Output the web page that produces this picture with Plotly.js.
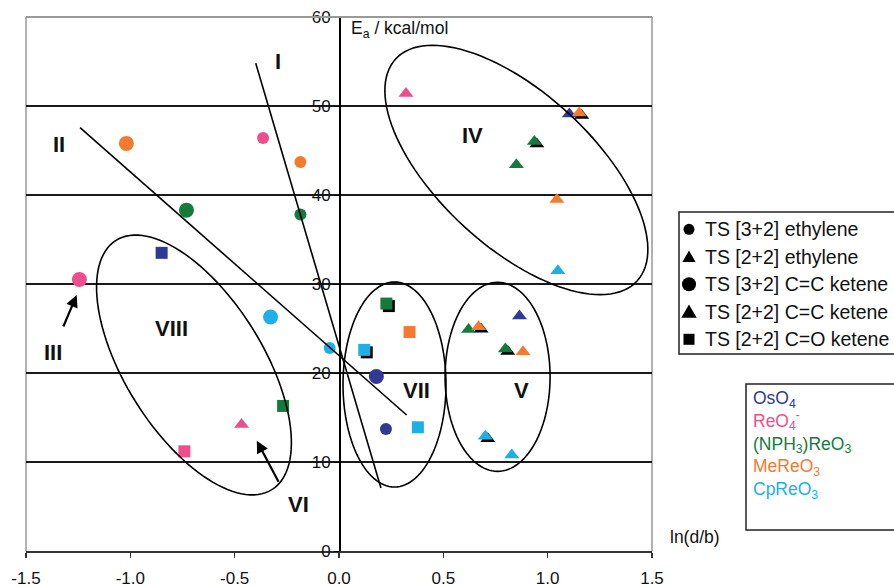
<!DOCTYPE html>
<html><head><meta charset="utf-8">
<script src="https://cdn.plot.ly/plotly-3.0.1.min.js"></script>
<style>html,body{margin:0;padding:0;background:#fff}#chart{width:894px;height:587px}</style>
</head><body><div id="chart"></div>
<script>
// ---------- DATA ----------
const compounds = ['OsO<sub>4</sub>', 'ReO<sub>4</sub><sup>-</sup>', '(NPH<sub>3</sub>)ReO<sub>3</sub>', 'MeReO<sub>3</sub>', 'CpReO<sub>3</sub>'];
const compoundColors = ['#2e3a93', '#ec4f8b', '#177a3d', '#f47a30', '#1cb0e6'];
const seriesNames = ['TS [3+2] ethylene', 'TS [2+2] ethylene', 'TS [3+2] C=C ketene', 'TS [2+2] C=C ketene', 'TS [2+2] C=O ketene'];

// TS [3+2] ethylene
const eth32X = [-0.364, -0.185, -0.185, -0.045, 0.225];
const eth32Y = [46.4, 43.7, 37.8, 22.8, 13.7];
const eth32C = [1, 3, 2, 4, 0];
// TS [2+2] ethylene
const eth22X = [0.321, 1.104, 0.850, 1.044, 1.049];
const eth22Y = [51.4, 49.1, 43.4, 39.5, 31.5];
const eth22C = [1, 0, 2, 3, 4];
// TS [3+2] C=C ketene
const ket32X = [-1.019, -0.731, -1.244, -0.328, 0.179];
const ket32Y = [45.8, 38.3, 30.5, 26.3, 19.6];
const ket32C = [3, 2, 1, 4, 0];
// TS [2+2] C=C ketene
const ket22X = [1.151, 0.936, 0.621, 0.669, 0.865, 0.797, 0.882, 0.701, 0.828, -0.467];
const ket22Y = [49.2, 46.0, 24.9, 25.2, 26.4, 22.7, 22.4, 12.9, 10.8, 14.2];
const ket22C = [3, 2, 2, 3, 0, 2, 3, 4, 4, 1];
const ket22Shadow = [1, 1, 0, 1, 0, 1, 0, 1, 0, 0];
// TS [2+2] C=O ketene
const co22X = [-0.850, -0.268, -0.741, 0.227, 0.338, 0.121, 0.378];
const co22Y = [33.5, 16.3, 11.2, 27.8, 24.6, 22.6, 13.9];
const co22C = [0, 2, 1, 2, 3, 4, 4];
const co22Shadow = [0, 0, 0, 1, 0, 1, 0];

const xTickVals = [-1.5, -1.0, -0.5, 0.0, 0.5, 1.0, 1.5];
const xTickText = ['-1.5', '-1.0', '-0.5', '0.0', '0.5', '1.0', '1.5'];
const yTickVals = [0, 10, 20, 30, 40, 50, 60];
const yTickText = ['0', '10', '20', '30', '40', '50', '60'];

const regionLabels = ['I', 'II', 'III', 'IV', 'V', 'VI', 'VII', 'VIII'];
const regionX = [-0.291, -1.340, -1.369, 0.641, 0.876, -0.192, 0.372, -0.802];
const regionY = [54.98, 45.62, 22.28, 46.63, 18.09, 5.28, 18.09, 25.02];

// ---------- LAYOUT GEOMETRY ----------
const W = 894, H = 587;
const M = {l: 26, r: 242, t: 17, b: 36};
const plotW = W - M.l - M.r, plotH = H - M.t - M.b;
const xR = [-1.5, 1.5], yR = [0, 60];
const sx = plotW / (xR[1] - xR[0]), sy = plotH / (yR[1] - yR[0]);
const pX = p => (p - M.l) / plotW;          // pixel -> paper
const pY = p => (H - M.b - p) / plotH;
const FONT = 'Liberation Sans, Arial, sans-serif';

function colorsOf(idx) { return idx.map(i => compoundColors[i]); }
function pick(arr, flags) { return arr.filter((_, i) => flags[i]); }

const shadowDX = 2.5 / sx, shadowDY = -2.5 / sy;
const traces = [];
// shadows
traces.push({x: pick(ket22X, ket22Shadow).map(v => v + shadowDX), y: pick(ket22Y, ket22Shadow).map(v => v + shadowDY),
  mode: 'markers', type: 'scatter', hoverinfo: 'skip', showlegend: false,
  marker: {symbol: 'triangle-up', size: 13, color: '#000', line: {width: 0}}});
traces.push({x: pick(co22X, co22Shadow).map(v => v + shadowDX), y: pick(co22Y, co22Shadow).map(v => v + shadowDY),
  mode: 'markers', type: 'scatter', hoverinfo: 'skip', showlegend: false,
  marker: {symbol: 'square', size: 12, color: '#000', line: {width: 0}}});
// coloured series
traces.push({name: seriesNames[0], x: eth32X, y: eth32Y, mode: 'markers', type: 'scatter', showlegend: false,
  marker: {symbol: 'circle', size: 12, color: colorsOf(eth32C), line: {width: 0}}});
traces.push({name: seriesNames[2], x: ket32X, y: ket32Y, mode: 'markers', type: 'scatter', showlegend: false,
  marker: {symbol: 'circle', size: 15, color: colorsOf(ket32C), line: {width: 0}}});
traces.push({name: seriesNames[1], x: eth22X, y: eth22Y, mode: 'markers', type: 'scatter', showlegend: false,
  marker: {symbol: 'triangle-up', size: 13, color: colorsOf(eth22C), line: {width: 0}}});
traces.push({name: seriesNames[3], x: ket22X, y: ket22Y, mode: 'markers', type: 'scatter', showlegend: false,
  marker: {symbol: 'triangle-up', size: 13, color: colorsOf(ket22C), line: {width: 0}}});
traces.push({name: seriesNames[4], x: co22X, y: co22Y, mode: 'markers', type: 'scatter', showlegend: false,
  marker: {symbol: 'square', size: 12, color: colorsOf(co22C), line: {width: 0}}});

// ellipse outlines (centre in data units, half-axes in px, tilt in deg)
function ellipsePath(cx, cy, a, b, ang) {
  const th = ang * Math.PI / 180; let d = '';
  for (let k = 0; k <= 120; k++) {
    const t = 2 * Math.PI * k / 120;
    const ex = a * Math.cos(t), ey = b * Math.sin(t);
    const X = ex * Math.cos(th) - ey * Math.sin(th);
    const Y = ex * Math.sin(th) + ey * Math.cos(th);
    d += (k ? 'L' : 'M') + (cx + X / sx).toFixed(4) + ',' + (cy - Y / sy).toFixed(4);
  }
  return d + 'Z';
}
const blk = {color: '#000', width: 1.6};
const shapes = [
  {type: 'path', xref: 'x', yref: 'y', path: ellipsePath(0.850, 42.81, 164, 77, 42.6), line: blk, layer: 'above'},
  {type: 'path', xref: 'x', yref: 'y', path: ellipsePath(0.760, 19.57, 52.5, 94.5, 0), line: blk, layer: 'above'},
  {type: 'path', xref: 'x', yref: 'y', path: ellipsePath(0.266, 18.71, 51.5, 102.5, 0), line: blk, layer: 'above'},
  {type: 'path', xref: 'x', yref: 'y', path: ellipsePath(-0.695, 20.90, 147, 69, 58), line: blk, layer: 'above'},
  {type: 'line', xref: 'x', yref: 'y', x0: -0.399, y0: 54.8, x1: 0.201, y1: 7.08, line: blk, layer: 'above'},
  {type: 'line', xref: 'x', yref: 'y', x0: -1.241, y0: 47.56, x1: 0.324, y1: 15.28, line: blk, layer: 'above'},
  // plot border (grey)
  {type: 'line', xref: 'paper', yref: 'paper', x0: 0, x1: 1, y0: 1, y1: 1, line: {color: '#999', width: 2}, layer: 'above'},
  {type: 'line', xref: 'paper', yref: 'paper', x0: 0, x1: 0, y0: 0, y1: 1, line: {color: '#999', width: 1.5}, layer: 'below'},
  {type: 'line', xref: 'paper', yref: 'paper', x0: 1, x1: 1, y0: 0, y1: 1, line: {color: '#999', width: 1.5}, layer: 'below'},
  // legend boxes
  {type: 'rect', xref: 'paper', yref: 'paper', x0: pX(679), x1: pX(905), y0: pY(212), y1: pY(354), line: {color: '#222', width: 1.5}},
  {type: 'rect', xref: 'paper', yref: 'paper', x0: pX(746), x1: pX(905), y0: pY(384), y1: pY(530), line: {color: '#222', width: 1.5}}
];

// legend 1 symbols
const legRowY = [229.3, 256.8, 284.3, 311.8, 339.3];
const legSymX = 689;
function symShape(kind, r, py) {
  const base = {xref: 'paper', yref: 'paper', xsizemode: 'pixel', ysizemode: 'pixel',
    xanchor: pX(legSymX), yanchor: pY(py), fillcolor: '#000', line: {width: 0}};
  if (kind === 'circle') return Object.assign(base, {type: 'circle', x0: -r, x1: r, y0: -r, y1: r});
  if (kind === 'square') return Object.assign(base, {type: 'rect', x0: -r, x1: r, y0: -r, y1: r});
  return Object.assign(base, {type: 'path', path: `M${-r * 1.1},${-r * 0.85}L${r * 1.1},${-r * 0.85}L0,${r * 1.05}Z`});
}
const legKinds = ['circle', 'triangle', 'circle', 'triangle', 'square'];
const legR = [5.5, 6, 7, 7, 5.5];
legKinds.forEach((k, i) => shapes.push(symShape(k, legR[i], legRowY[i])));

const annotations = [];
seriesNames.forEach((n, i) => annotations.push({xref: 'paper', yref: 'paper', x: pX(703), y: pY(legRowY[i]),
  xanchor: 'left', yanchor: 'middle', text: n, showarrow: false, font: {family: FONT, size: 19.5, color: '#111'}}));
// legend 2: one block of coloured lines
const leg2Text = compounds.map((n, i) => `<span style="color:${compoundColors[i]}">${n}</span>`).join('<br>');
annotations.push({xref: 'paper', yref: 'paper', x: pX(751), y: pY(445), xanchor: 'left', yanchor: 'middle', align: 'left',
  text: leg2Text, showarrow: false, font: {family: FONT, size: 17.5, color: '#111'}});
regionLabels.forEach((t, i) => annotations.push({x: regionX[i], y: regionY[i], xref: 'x', yref: 'y', text: '<b>' + t + '</b>',
  showarrow: false, font: {family: FONT, size: 22, color: '#111'}}));
// arrows to III and VI
annotations.push({x: -1.257, y: 28.76, ax: -1.324, ay: 25.06, axref: 'x', ayref: 'y', xref: 'x', yref: 'y', text: '',
  showarrow: true, arrowhead: 2, arrowsize: 1.1, arrowwidth: 2.2, arrowcolor: '#000', standoff: 0});
annotations.push({x: -0.394, y: 12.39, ax: -0.286, ay: 7.61, axref: 'x', ayref: 'y', xref: 'x', yref: 'y', text: '',
  showarrow: true, arrowhead: 2, arrowsize: 1.1, arrowwidth: 2.2, arrowcolor: '#000', standoff: 0});
// axis titles
annotations.push({xref: 'paper', yref: 'paper', x: pX(349), y: pY(30), xanchor: 'left', yanchor: 'middle',
  text: 'E<sub>a</sub> / kcal/mol', showarrow: false, font: {family: FONT, size: 17.5, color: '#111'}});
annotations.push({xref: 'paper', yref: 'paper', x: pX(695), y: pY(537), xanchor: 'center', yanchor: 'middle',
  text: 'ln(d/b)', showarrow: false, font: {family: FONT, size: 17.5, color: '#111'}});

const layout = {
  width: W, height: H, margin: M, paper_bgcolor: '#fff', plot_bgcolor: '#fff', showlegend: false,
  xaxis: {range: xR, tickvals: xTickVals, ticktext: xTickText, showline: true, linecolor: '#333', linewidth: 2,
    ticks: 'outside', ticklen: 5, tickcolor: '#333', tickwidth: 1.5, showgrid: false, zeroline: false,
    ticklabelstandoff: 6, tickfont: {family: FONT, size: 17, color: '#111'}},
  yaxis: {range: yR, tickvals: yTickVals, ticktext: yTickText, anchor: 'free', position: 0.5,
    showline: true, linecolor: '#000', linewidth: 1.6, ticks: 'outside', ticklen: 5, tickcolor: '#000',
    showgrid: true, gridcolor: '#1a1a1a', gridwidth: 1.6, zeroline: false,
    tickfont: {family: FONT, size: 17, color: '#111'}},
  shapes: shapes, annotations: annotations
};
Plotly.newPlot('chart', traces, layout, {staticPlot: true, displayModeBar: false});
</script></body></html>
